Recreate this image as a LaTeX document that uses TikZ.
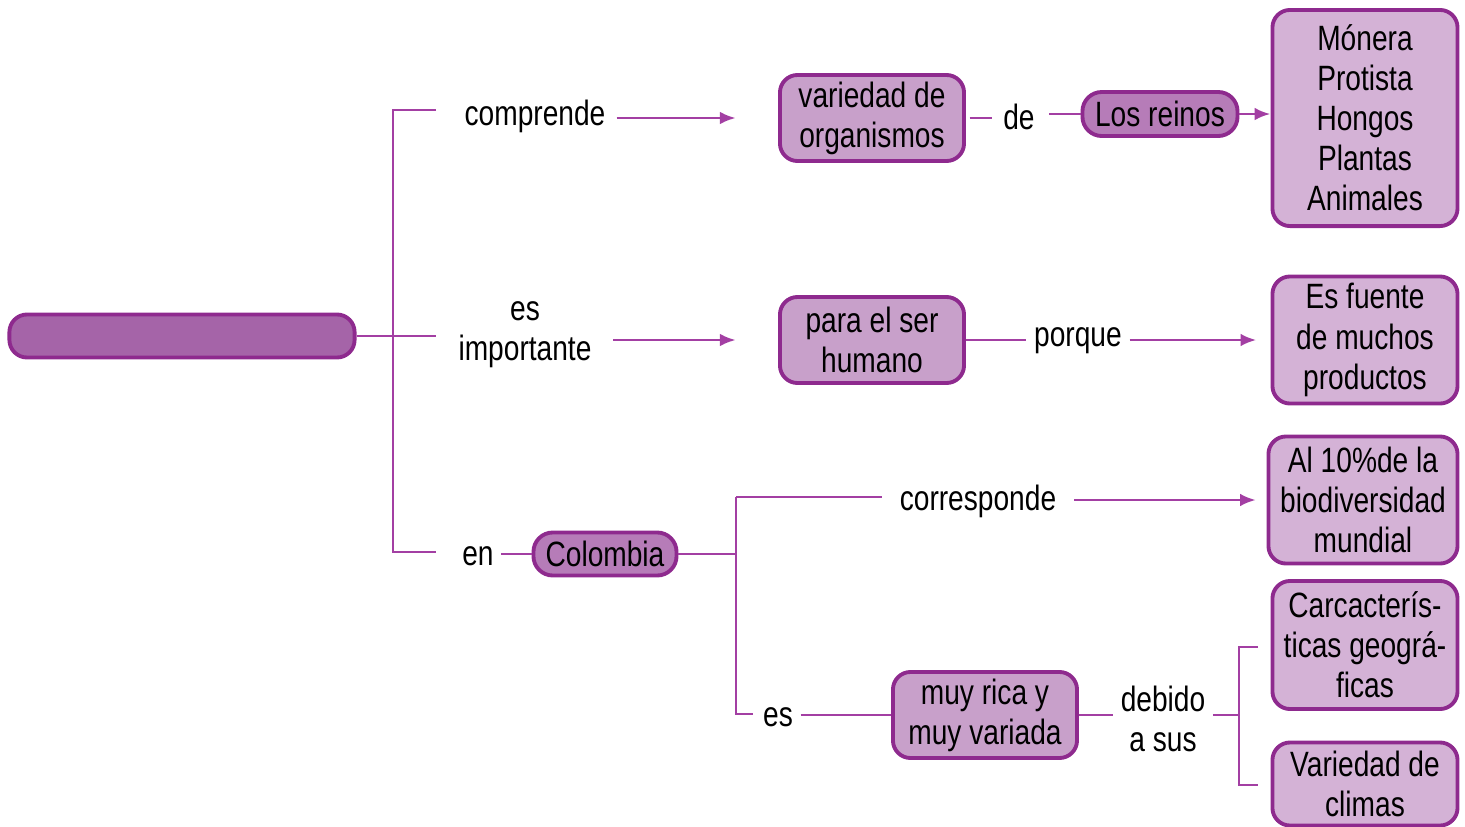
\documentclass[tikz,border=0pt]{standalone}
\usepackage{fontspec}
\setmainfont[FakeStretch=0.8]{Liberation Sans}
\usetikzlibrary{arrows.meta}
\definecolor{borde}{HTML}{8E2A8E}
\definecolor{linea}{HTML}{A33FA3}
\definecolor{rellenoA}{HTML}{C8A0CA}
\definecolor{rellenoB}{HTML}{B67CB8}
\definecolor{rellenoC}{HTML}{D4B2D6}
\definecolor{barra}{HTML}{A564A8}
\tikzset{
    caja/.style={draw=borde,line width=1.1pt,rounded corners=5pt,fill=rellenoA,align=center,inner sep=0pt},
    cajaB/.style={caja,fill=rellenoB,rounded corners=5.5pt},
    cajaC/.style={caja,fill=rellenoC},
    etiqueta/.style={align=center,inner sep=2pt},
    linea/.style={draw=linea,line width=0.85pt},
    flecha/.style={linea,-{Latex[length=4.5pt,width=3.6pt]}}
}
\begin{document}
\begin{tikzpicture}[x=0.01cm,y=-0.01cm,font=\fontsize{10}{11.4}\selectfont]
    \useasboundingbox (0,0) rectangle (1465,827);
    % cajas
    \node[cajaB,fill=barra,rounded corners=5pt,minimum width=3.45cm,minimum height=0.43cm] (tema) at (182,336) {};
    \node[caja,minimum width=1.84cm,minimum height=0.86cm] (variedad) at (872,118) {variedad de\\organismos};
    \node[cajaB,minimum width=1.55cm,minimum height=0.44cm] (reinos) at (1160,114) {Los reinos};
    \node[cajaC,minimum width=1.85cm,minimum height=2.16cm] (lista) at (1365,118) {Mónera\\Protista\\Hongos\\Plantas\\Animales};
    \node[caja,minimum width=1.84cm,minimum height=0.86cm] (humano) at (872,340) {para el ser\\humano};
    \node[cajaC,minimum width=1.85cm,minimum height=1.27cm] (fuente) at (1365,340) {Es fuente\\de muchos\\productos};
    \node[cajaB,minimum width=1.43cm,minimum height=0.43cm] (colombia) at (605,554) {Colombia};
    \node[cajaC,minimum width=1.89cm,minimum height=1.27cm] (biodiv) at (1363,500) {Al 10\%de la\\biodiversidad\\mundial};
    \node[caja,minimum width=1.84cm,minimum height=0.86cm] (rica) at (985,715) {muy rica y\\muy variada};
    \node[cajaC,minimum width=1.85cm,minimum height=1.28cm] (geo) at (1365,645) {Carcacterís-\\ticas geográ-\\ficas};
    \node[cajaC,minimum width=1.85cm,minimum height=0.83cm] (climas) at (1365,784) {Variedad de\\climas};
    % palabras de enlace
    \node[etiqueta] (comprende) at (535,116) {comprende};
    \node[etiqueta] (importante) at (525,335) {es\\importante};
    \node[etiqueta] (en) at (478,556) {en};
    \node[etiqueta] (de) at (1019,117) {de};
    \node[etiqueta] (porque) at (1078,341) {porque};
    \node[etiqueta] (corresponde) at (978,501) {corresponde};
    \node[etiqueta] (es) at (778,717) {es};
    \node[etiqueta] (debido) at (1163,719) {debido\\a sus};
    % llaves
    \coordinate (b1) at (393,110);
    \coordinate (b2) at (393,336);
    \coordinate (b3) at (393,552);
    \coordinate (a1) at (436,110);
    \coordinate (a2) at (436,336);
    \coordinate (a3) at (436,552);
    \coordinate (c1) at (736,497);
    \coordinate (c2) at (736,554);
    \coordinate (c3) at (736,714);
    \coordinate (c4) at (753,714);
    \coordinate (d1) at (1239,647);
    \coordinate (d2) at (1239,715);
    \coordinate (d3) at (1239,785);
    \coordinate (e1) at (1258,647);
    \coordinate (e3) at (1258,785);
    \draw[linea] (a1) -- (b1) -- (b3) -- (a3);
    \draw[linea] (tema.east) -- (a2);
    \draw[linea] (c1) -- (c3) -- (c4);
    \draw[linea] (colombia.east) -- (c2);
    \draw[linea] (e1) -- (d1) -- (d3) -- (e3);
    \draw[linea] (debido.east |- d2) -- (d2);
    % conectores
    \draw[flecha,shorten <=1pt,shorten >=12pt] (comprende.east |- variedad.west) -- (variedad.west);
    \draw[flecha,shorten <=4pt,shorten >=12pt] (importante.east |- humano.west) -- (humano.west);
    \draw[linea,shorten <=1pt,shorten >=1pt] (variedad.east) -- (variedad.east -| de.west);
    \draw[linea,shorten <=2pt] (de.east |- reinos.west) -- (reinos.west);
    \draw[flecha] (reinos.east) -- (reinos.east -| lista.west);
    \draw[linea] (humano.east) -- (humano.east -| porque.west);
    \draw[flecha,shorten >=4pt] (porque.east |- fuente.west) -- (fuente.west);
    \draw[linea] (en.east |- colombia.west) -- (colombia.west);
    \draw[linea,shorten >=3pt] (c1) -- (c1 -| corresponde.west);
    \draw[flecha,shorten <=3pt,shorten >=3pt] (corresponde.east |- biodiv.west) -- (biodiv.west);
    \draw[linea] (es.east |- rica.west) -- (rica.west);
    \draw[linea] (rica.east) -- (rica.east -| debido.west);
\end{tikzpicture}
\end{document}
